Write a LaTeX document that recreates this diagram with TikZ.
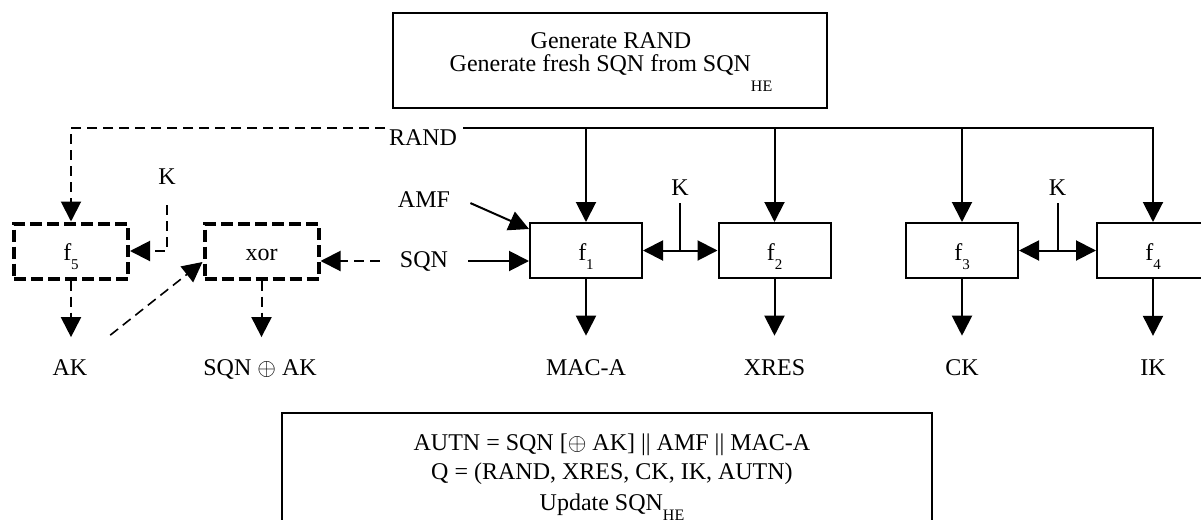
\documentclass[tikz,border=0pt]{standalone}
\usepackage{fontspec}
\setmainfont{Liberation Serif}
\usetikzlibrary{arrows.meta}

% lowered small subscript: \lowsub{drop}{text}
\newcommand\lowsub[2]{\raisebox{-#1}{\fontsize{8}{8}\selectfont #2}}
\newcommand\fsub[1]{\raisebox{-4.5pt}{\fontsize{7.5}{7.5}\selectfont #1}}

\tikzset{
  lbl/.style={font=\fontsize{12}{14}\selectfont, inner sep=0pt},
  fbox/.style={draw, line width=1pt, minimum width=56pt, minimum height=27.5pt,
    inner sep=0pt, text height=9.5pt, text depth=0pt, font=\fontsize{12}{14}\selectfont},
  dbox/.style={fbox, line width=2pt, dash pattern=on 6pt off 2.5pt, minimum width=57pt},
  bigbox/.style={draw, line width=1pt, inner sep=0pt},
  arr/.style={line width=1pt, -{Triangle[length=10pt,width=10pt]}},
  darr/.style={arr, dash pattern=on 5pt off 3pt},
  plain/.style={line width=1pt},
}

\begin{document}
\begin{tikzpicture}[x=0.5pt,y=-0.5pt]
\clip (0,0) rectangle (1201,520);

% generation step
\node[bigbox, minimum width=217pt, minimum height=47.5pt] (gen) at (610,60.5) {};
\node[lbl, anchor=base] (genA) at (611,48) {Generate RAND};
\node[lbl, anchor=base] (genB) at (611,71) {Generate fresh SQN from SQN\lowsub{10pt}{HE}};

% functions
\node[fbox] (f1) at (586,250.5) {f\fsub{1}};
\node[fbox] (f2) at (774.5,250.5) {f\fsub{2}};
\node[fbox] (f3) at (962,250.5) {f\fsub{3}};
\node[fbox] (f4) at (1153,250.5) {f\fsub{4}};
\node[dbox] (f5) at (71,251) {f\fsub{5}};
\node[dbox] (xor) at (261.5,251) {xor};

% inputs
\node[lbl, anchor=base] (rand) at (423,145) {RAND};
\node[lbl, anchor=base] (amf) at (424,207) {AMF};
\node[lbl, anchor=base] (sqn) at (424,267) {SQN};
\node[lbl, anchor=base] (k0) at (167,184) {K};
\node[lbl, anchor=base] (k1) at (680,195) {K};
\node[lbl, anchor=base] (k2) at (1057.5,195) {K};
\coordinate (randR) at (463,128);
\coordinate (randL) at (385,128);
\coordinate (k1j) at (680,250.5);
\coordinate (k2j) at (1057.5,250.5);

% outputs
\node[lbl, anchor=base] (maca) at (586,375) {MAC-A};
\node[lbl, anchor=base] (xres) at (774.5,375) {XRES};
\node[lbl, anchor=base] (ck) at (962,375) {CK};
\node[lbl, anchor=base] (ik) at (1153,375) {IK};
\node[lbl, anchor=base] (ak) at (70,375) {AK};
\node[lbl, anchor=base] (sak) at (260,375) {SQN $\oplus$ AK};

% RAND distribution
\draw[arr] (randR) -| (f4);
\draw[arr] (f1 |- randR) -- (f1);
\draw[arr] (f2 |- randR) -- (f2);
\draw[arr] (f3 |- randR) -- (f3);
\draw[darr] (randL) -| (f5);

% AMF and SQN into f1
\draw[arr] ([xshift=10pt,yshift=-2pt]amf.east) -- ([yshift=-3.5pt]f1.north west);
\draw[arr] ([xshift=10pt]sqn.east) -- (sqn.east -| f1.west);

% key K
\draw[plain] ([yshift=-4pt]k1.south) -- (k1j);
\draw[arr] (k1j) -- (f1.east);
\draw[arr] (k1j) -- (f2.west);
\draw[plain] ([yshift=-4pt]k2.south) -- (k2j);
\draw[arr] (k2j) -- (f3.east);
\draw[arr] (k2j) -- (f4.west);
\draw[darr] ([yshift=-10.5pt]k0.south) |- (f5.east);

% concealment of SQN
\draw[darr] ([xshift=-10pt]sqn.west) -- (sqn.west -| xor.east);
\draw[darr, line width=0.8pt] ([xshift=11.25pt,yshift=11.8pt]ak.north east) -- ([yshift=-5.5pt]xor.west);

% outputs
\draw[arr, shorten >=11.5pt] (f1.south) -- (maca.north);
\draw[arr, shorten >=11.5pt] (f2.south) -- (xres.north);
\draw[arr, shorten >=11.5pt] (f3.south) -- (ck.north);
\draw[arr, shorten >=11.5pt] (f4.south) -- (ik.north);
\draw[darr, shorten >=10.8pt] (f5.south) -- (f5.south |- ak.north);
\draw[darr, shorten >=10.8pt] (xor.south) -- (xor.south |- sak.north);

% assembly of the authentication vector
\node[bigbox, minimum width=325pt, minimum height=70pt, anchor=north] (autn) at (607,412) {};
\node[lbl, anchor=base] (autnA) at (612,450) {AUTN = SQN [$\oplus$ AK] || AMF || MAC-A};
\node[lbl, anchor=base] (autnB) at (612,479) {Q = (RAND, XRES, CK, IK, AUTN)};
\node[lbl, anchor=base] (autnC) at (612,510) {Update SQN\lowsub{5pt}{HE}};
\end{tikzpicture}
\end{document}
